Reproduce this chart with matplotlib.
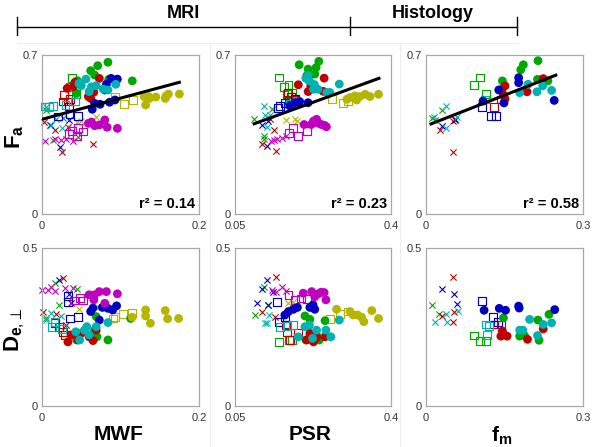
import matplotlib
matplotlib.use('Agg')
import matplotlib.pyplot as plt
from matplotlib.lines import Line2D

plt.rcParams['font.family'] = ['Liberation Sans', 'DejaVu Sans']
plt.rcParams['mathtext.fontset'] = 'custom'
plt.rcParams['mathtext.rm'] = 'Liberation Sans'
plt.rcParams['mathtext.bf'] = 'Liberation Sans:bold'

# colours of the groups
colors = {'g': '#00a800', 'r': '#c00000', 'b': '#0000c0',
          'c': '#00b2b2', 'm': '#c000c0', 'y': '#b6b600'}

# ---- Fa vs MWF ----
mwf_fa_o = {
    'g': [(0.084, 0.668), (0.071, 0.653), (0.062, 0.631), (0.067, 0.612), (0.085, 0.593),
          (0.115, 0.586), (0.045, 0.587), (0.044, 0.531)],
    'r': [(0.032, 0.553), (0.040, 0.561), (0.042, 0.580), (0.059, 0.517), (0.066, 0.536),
          (0.062, 0.509), (0.073, 0.597)],
    'b': [(0.064, 0.461), (0.067, 0.487), (0.074, 0.483), (0.082, 0.571), (0.088, 0.597),
          (0.096, 0.594), (0.080, 0.546), (0.086, 0.492), (0.093, 0.502)],
    'c': [(0.050, 0.565), (0.056, 0.594), (0.047, 0.575), (0.060, 0.539), (0.069, 0.565),
          (0.078, 0.550), (0.094, 0.571), (0.084, 0.546), (0.063, 0.560)],
    'm': [(0.059, 0.399), (0.067, 0.389), (0.073, 0.392), (0.080, 0.414), (0.083, 0.382),
          (0.096, 0.377), (0.063, 0.405)],
    'y': [(0.130, 0.517), (0.136, 0.517), (0.132, 0.480), (0.157, 0.509), (0.161, 0.528),
          (0.158, 0.520), (0.175, 0.528), (0.137, 0.509), (0.145, 0.515)],
}
mwf_fa_s = {
    'g': [(0.038, 0.597), (0.043, 0.528), (0.036, 0.560)],
    'r': [(0.028, 0.524), (0.033, 0.495), (0.027, 0.495), (0.036, 0.505)],
    'b': [(0.034, 0.473), (0.046, 0.432), (0.020, 0.429), (0.035, 0.440)],
    'c': [(0.0034, 0.473), (0.014, 0.477), (0.042, 0.495), (0.030, 0.480), (0.009, 0.470)],
    'm': [(0.034, 0.352), (0.046, 0.377), (0.052, 0.363), (0.045, 0.341), (0.038, 0.365)],
    'y': [(0.093, 0.517), (0.105, 0.484), (0.116, 0.502)],
}
mwf_fa_x = {
    'g': [(0.0055, 0.458), (0.014, 0.326), (0.027, 0.421), (0.046, 0.341)],
    'r': [(0.0026, 0.407), (0.017, 0.370), (0.026, 0.275), (0.065, 0.308), (0.033, 0.385)],
    'b': [(0.0225, 0.297), (0.010, 0.392), (0.035, 0.414)],
    'c': [(0.0055, 0.473), (0.012, 0.392), (0.025, 0.377), (0.018, 0.420)],
    'm': [(0.0043, 0.321), (0.016, 0.329), (0.031, 0.329), (0.040, 0.321), (0.024, 0.326)],
    'y': [(0.069, 0.429), (0.044, 0.407), (0.050, 0.410)],
}

# ---- Fa vs PSR ----
psr_fa_o = {
    'g': [(0.194, 0.657), (0.238, 0.672), (0.214, 0.638), (0.229, 0.616), (0.232, 0.645),
          (0.211, 0.609)],
    'r': [(0.192, 0.569), (0.214, 0.539), (0.250, 0.598), (0.220, 0.564), (0.248, 0.540)],
    'b': [(0.173, 0.476), (0.214, 0.490), (0.214, 0.601), (0.185, 0.490), (0.195, 0.495)],
    'c': [(0.209, 0.597), (0.226, 0.549), (0.236, 0.549), (0.256, 0.535), (0.263, 0.535),
          (0.284, 0.572), (0.217, 0.585), (0.228, 0.570), (0.214, 0.610)],
    'm': [(0.205, 0.394), (0.226, 0.409), (0.233, 0.417), (0.244, 0.394), (0.255, 0.384),
          (0.251, 0.390), (0.221, 0.394), (0.236, 0.400)],
    'y': [(0.308, 0.513), (0.319, 0.520), (0.330, 0.517), (0.342, 0.527), (0.353, 0.517),
          (0.372, 0.527), (0.323, 0.502), (0.301, 0.505)],
}
psr_fa_s = {
    'g': [(0.149, 0.601), (0.170, 0.569), (0.177, 0.535), (0.166, 0.528), (0.160, 0.560)],
    'r': [(0.168, 0.532), (0.170, 0.501), (0.185, 0.501), (0.175, 0.515)],
    'b': [(0.151, 0.476), (0.147, 0.468), (0.162, 0.490), (0.185, 0.505)],
    'c': [(0.188, 0.498), (0.173, 0.484)],
    'm': [(0.181, 0.380), (0.192, 0.343), (0.212, 0.365), (0.172, 0.357)],
    'y': [(0.293, 0.490), (0.304, 0.498), (0.267, 0.505)],
}
psr_fa_x = {
    'g': [(0.093, 0.417), (0.115, 0.343), (0.114, 0.328), (0.132, 0.461)],
    'r': [(0.110, 0.310), (0.142, 0.276), (0.138, 0.372), (0.128, 0.420)],
    'b': [(0.110, 0.394), (0.121, 0.298), (0.125, 0.409)],
    'c': [(0.116, 0.476), (0.121, 0.384), (0.117, 0.434), (0.128, 0.438)],
    'm': [(0.131, 0.321), (0.144, 0.331), (0.155, 0.335), (0.164, 0.343), (0.137, 0.326)],
    'y': [(0.164, 0.414), (0.185, 0.419), (0.189, 0.409)],
}

# ---- Fa vs fm (histology) ----
fm_fa_o = {
    'g': [(0.214, 0.675), (0.186, 0.657), (0.181, 0.635), (0.146, 0.586), (0.213, 0.593),
          (0.233, 0.586)],
    'r': [(0.151, 0.564), (0.145, 0.549), (0.151, 0.507), (0.193, 0.538), (0.224, 0.596),
          (0.148, 0.525)],
    'b': [(0.139, 0.546), (0.109, 0.497), (0.149, 0.489), (0.177, 0.600), (0.177, 0.578),
          (0.245, 0.500)],
    'c': [(0.179, 0.534), (0.212, 0.538), (0.223, 0.564), (0.240, 0.544), (0.195, 0.571)],
}
fm_fa_s = {
    'g': [(0.103, 0.601), (0.092, 0.567), (0.114, 0.527)],
    'r': [(0.130, 0.470), (0.143, 0.504)],
    'b': [(0.107, 0.470), (0.125, 0.433), (0.133, 0.433)],
    'c': [(0.113, 0.504)],
}
fm_fa_x = {
    'g': [(0.011, 0.423), (0.030, 0.460), (0.018, 0.415)],
    'r': [(0.052, 0.274), (0.027, 0.371), (0.052, 0.408), (0.055, 0.420)],
    'b': [(0.030, 0.389), (0.055, 0.415)],
    'c': [(0.016, 0.426), (0.039, 0.475), (0.039, 0.378), (0.060, 0.426)],
}

# ---- De vs MWF ----
mwf_de_o = {
    'g': [(0.044, 0.209), (0.067, 0.240), (0.069, 0.283), (0.084, 0.209), (0.113, 0.277),
          (0.070, 0.219)],
    'r': [(0.033, 0.203), (0.037, 0.225), (0.050, 0.230), (0.060, 0.219), (0.069, 0.240),
          (0.065, 0.207), (0.046, 0.209)],
    'b': [(0.062, 0.299), (0.077, 0.312), (0.084, 0.309), (0.090, 0.304), (0.095, 0.317),
          (0.073, 0.272), (0.065, 0.310)],
    'c': [(0.043, 0.235), (0.054, 0.240), (0.057, 0.251), (0.048, 0.209), (0.069, 0.251),
          (0.084, 0.264), (0.060, 0.225)],
    'm': [(0.060, 0.352), (0.067, 0.352), (0.073, 0.362), (0.082, 0.362), (0.096, 0.355),
          (0.080, 0.325), (0.066, 0.336)],
    'y': [(0.132, 0.304), (0.132, 0.285), (0.138, 0.262), (0.157, 0.302), (0.160, 0.276),
          (0.174, 0.277), (0.115, 0.281)],
}
mwf_de_s = {
    'g': [(0.045, 0.220)],
    'r': [(0.027, 0.235), (0.029, 0.225), (0.022, 0.251)],
    'b': [(0.033, 0.348), (0.033, 0.330), (0.036, 0.277), (0.046, 0.281), (0.017, 0.262)],
    'c': [(0.013, 0.251), (0.016, 0.267), (0.025, 0.245)],
    'm': [(0.048, 0.341), (0.052, 0.334), (0.041, 0.334)],
    'y': [(0.103, 0.291), (0.115, 0.295), (0.090, 0.277), (0.093, 0.283)],
}
mwf_de_x = {
    'g': [(0.0055, 0.277), (0.016, 0.389), (0.022, 0.320), (0.044, 0.370)],
    'r': [(0.001, 0.296), (0.027, 0.405), (0.031, 0.256), (0.018, 0.290)],
    'b': [(0.022, 0.399), (0.037, 0.327), (0.035, 0.355)],
    'c': [(0.0055, 0.272), (0.012, 0.293), (0.024, 0.285)],
    'm': [(0.0, 0.367), (0.0076, 0.367), (0.017, 0.364), (0.029, 0.373), (0.039, 0.373),
          (0.012, 0.376)],
    'y': [(0.047, 0.306), (0.069, 0.314)],
}

# ---- De vs PSR ----
psr_de_o = {
    'g': [(0.207, 0.285), (0.218, 0.274), (0.233, 0.225), (0.239, 0.209), (0.209, 0.209),
          (0.252, 0.270)],
    'r': [(0.211, 0.209), (0.226, 0.203), (0.252, 0.219), (0.233, 0.217), (0.218, 0.230)],
    'b': [(0.170, 0.299), (0.181, 0.306), (0.218, 0.312), (0.229, 0.306), (0.225, 0.320),
          (0.162, 0.288), (0.190, 0.312)],
    'c': [(0.207, 0.251), (0.217, 0.256), (0.233, 0.240), (0.254, 0.240), (0.265, 0.219),
          (0.224, 0.214), (0.284, 0.272), (0.192, 0.219)],
    'm': [(0.203, 0.357), (0.222, 0.362), (0.237, 0.355), (0.250, 0.359), (0.254, 0.336),
          (0.229, 0.346), (0.243, 0.360)],
    'y': [(0.278, 0.306), (0.308, 0.299), (0.315, 0.288), (0.334, 0.281), (0.339, 0.267),
          (0.357, 0.302), (0.372, 0.277), (0.325, 0.288)],
}
psr_de_s = {
    'g': [(0.149, 0.203), (0.171, 0.209), (0.177, 0.209)],
    'r': [(0.167, 0.235), (0.173, 0.209), (0.192, 0.230), (0.164, 0.256)],
    'b': [(0.145, 0.330), (0.149, 0.267), (0.162, 0.281)],
    'c': [(0.151, 0.249), (0.181, 0.256), (0.166, 0.252)],
    'm': [(0.170, 0.352), (0.185, 0.336), (0.212, 0.338), (0.198, 0.340)],
    'y': [(0.263, 0.274), (0.286, 0.291), (0.304, 0.299)],
}
psr_de_x = {
    'g': [(0.095, 0.288), (0.114, 0.378), (0.125, 0.320)],
    'r': [(0.142, 0.407), (0.110, 0.299), (0.140, 0.281)],
    'b': [(0.121, 0.399), (0.110, 0.370), (0.100, 0.327), (0.125, 0.320), (0.136, 0.361)],
    'c': [(0.117, 0.264), (0.127, 0.288), (0.122, 0.264)],
    'm': [(0.132, 0.367), (0.155, 0.376), (0.164, 0.365), (0.143, 0.362)],
    'y': [(0.170, 0.325), (0.181, 0.330)],
}

# ---- De vs fm (histology) ----
fm_de_o = {
    'g': [(0.148, 0.279), (0.179, 0.221), (0.188, 0.223), (0.214, 0.272), (0.216, 0.208),
          (0.235, 0.290)],
    'r': [(0.146, 0.237), (0.155, 0.221), (0.143, 0.221), (0.194, 0.211), (0.224, 0.244)],
    'b': [(0.111, 0.303), (0.140, 0.309), (0.152, 0.303), (0.177, 0.316), (0.178, 0.310),
          (0.246, 0.305)],
    'c': [(0.179, 0.240), (0.185, 0.240), (0.198, 0.274), (0.224, 0.258), (0.240, 0.263),
          (0.213, 0.223)],
}
fm_de_s = {
    'g': [(0.092, 0.223), (0.103, 0.207), (0.114, 0.205)],
    'r': [(0.130, 0.258), (0.143, 0.258)],
    'b': [(0.107, 0.332), (0.128, 0.282), (0.138, 0.265)],
    'c': [(0.114, 0.258), (0.117, 0.226), (0.121, 0.252)],
}
fm_de_x = {
    'g': [(0.012, 0.321), (0.024, 0.290)],
    'r': [(0.052, 0.408), (0.053, 0.297), (0.052, 0.265), (0.030, 0.284)],
    'b': [(0.030, 0.369), (0.053, 0.356), (0.059, 0.324)],
    'c': [(0.018, 0.265), (0.039, 0.290), (0.041, 0.265), (0.062, 0.300)],
}

# regression lines on the Fa row: (intercept, slope, x start, x end)
fit_mwf = (0.417, 0.93, 0.001, 0.175)
fit_psr = (0.331, 0.714, 0.093, 0.373)
fit_fm = (0.388, 0.90, 0.0095, 0.248)
r2_values = ['0.14', '0.23', '0.58']

xlims = [(0, 0.2), (0.05, 0.4), (0, 0.3)]
xtick_labels = [['0', '0.2'], ['0.05', '0.4'], ['0', '0.3']]


def scatter_groups(ax, circles, squares, crosses):
    for key, pts in crosses.items():
        xs, ys = zip(*pts)
        ax.scatter(xs, ys, marker='x', s=20, linewidths=0.8, color=colors[key],
                   clip_on=False, zorder=2)
    for key, pts in squares.items():
        xs, ys = zip(*pts)
        ax.scatter(xs, ys, marker='s', s=32, facecolors='none', linewidths=0.85,
                   edgecolors=colors[key], clip_on=False, zorder=3)
    for key, pts in circles.items():
        xs, ys = zip(*pts)
        ax.scatter(xs, ys, marker='o', s=40, color=colors[key], edgecolors='none',
                   clip_on=False, zorder=4)


def style_axes(ax, xlim, xlabels, ylim, ylabels):
    ax.set_xlim(*xlim)
    ax.set_ylim(*ylim)
    ax.set_xticks(list(xlim))
    ax.set_xticklabels(xlabels)
    ax.set_yticks(list(ylim))
    ax.set_yticklabels(ylabels)
    ax.tick_params(length=0, labelsize=8, colors='#333333')
    ax.tick_params(axis='x', pad=5)
    ax.tick_params(axis='y', pad=3)
    for sp in ax.spines.values():
        sp.set_color('#a8a8a8')
        sp.set_linewidth(0.9)


fig = plt.figure(figsize=(6.02, 4.47), dpi=100)
W, H = 602.0, 447.0

# faint panel separators seen in the reference
for xx in (210, 400):
    fig.add_artist(Line2D([xx / W, xx / W], [0, 1 - 43 / H], color='#ededed', lw=0.8))
fig.add_artist(Line2D([17 / W, 517 / W], [1 - 43 / H, 1 - 43 / H], color='#ededed', lw=0.8))

lefts = [42, 235, 426]
widths = [157, 156, 157]
top_row = [fig.add_axes([l / W, (447 - 214) / H, w / W, 159 / H]) for l, w in zip(lefts, widths)]
bot_row = [fig.add_axes([l / W, (447 - 406) / H, w / W, 158 / H]) for l, w in zip(lefts, widths)]

top_data = [(mwf_fa_o, mwf_fa_s, mwf_fa_x), (psr_fa_o, psr_fa_s, psr_fa_x), (fm_fa_o, fm_fa_s, fm_fa_x)]
bot_data = [(mwf_de_o, mwf_de_s, mwf_de_x), (psr_de_o, psr_de_s, psr_de_x), (fm_de_o, fm_de_s, fm_de_x)]
fits = [fit_mwf, fit_psr, fit_fm]

for i, ax in enumerate(top_row):
    scatter_groups(ax, *top_data[i])
    b0, b1, xa, xb = fits[i]
    ax.plot([xa, xb], [b0 + b1 * xa, b0 + b1 * xb], color='black', lw=2.2, zorder=5)
    style_axes(ax, xlims[i], xtick_labels[i], (0, 0.7), ['0', '0.7'])
    ax.text(0.975, 0.06, 'r² = ' + r2_values[i], transform=ax.transAxes, ha='right',
            va='center', fontsize=10.5, fontweight='bold')

for i, ax in enumerate(bot_row):
    scatter_groups(ax, *bot_data[i])
    style_axes(ax, xlims[i], xtick_labels[i], (0, 0.5), ['0', '0.5'])

# axis titles
fig.text(15 / W, 1 - 137 / H, r'$\mathbf{F}_\mathbf{a}$', rotation=90, ha='center',
         va='center', fontsize=16)
fig.text(15 / W, 1 - 330 / H, r'$\mathbf{D}_{\mathbf{e},\!\perp}$', rotation=90, ha='center',
         va='center', fontsize=16)
fig.text(119 / W, 1 - 435 / H, 'MWF', ha='center', va='center', fontsize=15, fontweight='bold')
fig.text(310 / W, 1 - 434 / H, 'PSR', ha='center', va='center', fontsize=15, fontweight='bold')
fig.text(502 / W, 1 - 436 / H, r'$\mathbf{f}_\mathbf{m}$', ha='center', va='center', fontsize=15)

# header bracket
yl = 1 - 27 / H
fig.add_artist(Line2D([17 / W, 517 / W], [yl, yl], color='black', lw=1.0))
for xx in (17, 350, 517):
    fig.add_artist(Line2D([xx / W, xx / W], [1 - 17 / H, 1 - 35 / H], color='black', lw=1.0))
fig.text(183 / W, 1 - 13 / H, 'MRI', ha='center', va='center', fontsize=13, fontweight='bold')
fig.text(433 / W, 1 - 13 / H, 'Histology', ha='center', va='center', fontsize=13,
         fontweight='bold')

fig.savefig('out.png', dpi=100)
